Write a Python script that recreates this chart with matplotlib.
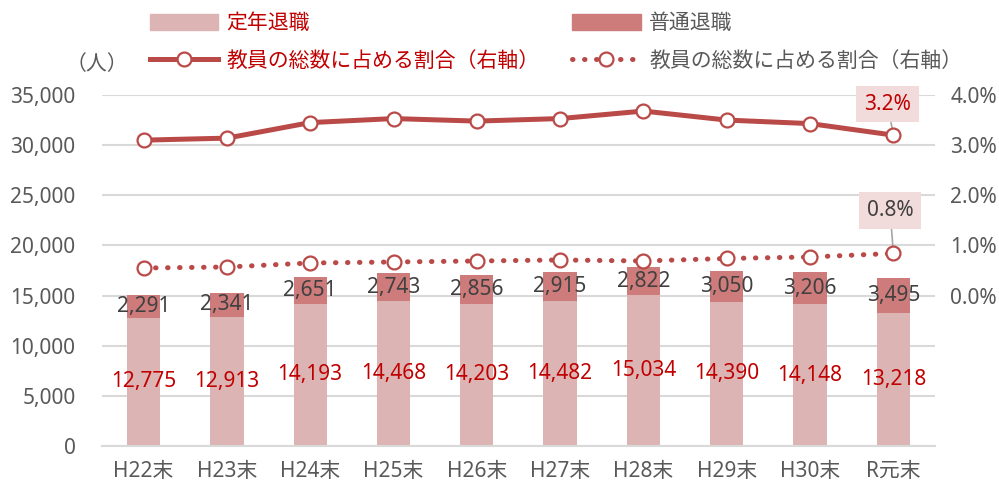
import matplotlib
matplotlib.use('Agg')
import matplotlib.pyplot as plt
from matplotlib.lines import Line2D
from matplotlib.patches import Patch

plt.rcParams['font.family'] = ['Noto Sans', 'Noto Sans CJK JP', 'DejaVu Sans']

years = ['H22末', 'H23末', 'H24末', 'H25末', 'H26末', 'H27末', 'H28末', 'H29末', 'H30末', 'R元末']
teinen = [12775, 12913, 14193, 14468, 14203, 14482, 15034, 14390, 14148, 13218]
futsu = [2291, 2341, 2651, 2743, 2856, 2915, 2822, 3050, 3206, 3495]
rate_teinen = [3.10, 3.14, 3.45, 3.53, 3.48, 3.53, 3.68, 3.50, 3.43, 3.2]
rate_futsu = [0.55, 0.57, 0.65, 0.67, 0.69, 0.71, 0.69, 0.74, 0.77, 0.84]

c_low = '#DDB4B4'
c_top = '#CD7B7B'
c_line = '#B94A48'
c_red = '#C00000'
c_gray = '#595959'
c_grid = '#D9D9D9'

fig = plt.figure(figsize=(9.99, 4.86), dpi=100)
ax = fig.add_axes([0.102, 0.0823, 0.834, 0.7222])
x = range(len(years))

ax.bar(x, teinen, width=0.4, color=c_low, zorder=2)
ax.bar(x, futsu, width=0.4, bottom=teinen, color=c_top, zorder=2)

for i in x:
    ax.text(i, teinen[i] / 2, f'{teinen[i]:,}', ha='center', va='center',
            fontsize=15, color=c_red, zorder=5)
    ax.text(i, teinen[i] + futsu[i] / 2, f'{futsu[i]:,}', ha='center', va='center',
            fontsize=15, color='#404040', zorder=5)

ax.set_xlim(-0.5, 9.5)
ax.set_ylim(0, 35000)
ax.set_yticks(range(0, 35001, 5000))
ax.set_yticklabels([f'{v:,}' for v in range(0, 35001, 5000)])
ax.set_xticks(list(x))
ax.set_xticklabels(years)
ax.tick_params(axis='both', length=0, labelsize=15, labelcolor=c_gray)
ax.tick_params(axis='y', pad=19)
ax.tick_params(axis='x', pad=11)
ax.grid(axis='y', color=c_grid, linewidth=1.5, zorder=0)
ax.set_axisbelow(True)
for s in ['top', 'right', 'left']:
    ax.spines[s].set_visible(False)
ax.spines['bottom'].set_color(c_grid)
ax.spines['bottom'].set_linewidth(1.5)

ax2 = ax.twinx()
ax2.set_ylim(-3.0, 4.0)
ax2.set_yticks([0, 1, 2, 3, 4])
ax2.set_yticklabels(['0.0%', '1.0%', '2.0%', '3.0%', '4.0%'])
ax2.tick_params(axis='y', length=0, labelsize=15, labelcolor=c_gray, pad=11)
for s in ax2.spines.values():
    s.set_visible(False)

ax2.plot(x, rate_teinen, color=c_line, lw=3.6, marker='o', ms=10,
         mfc='white', mec=c_line, mew=1.6, zorder=4)
ax2.plot(x, rate_futsu, color=c_line, lw=3.6, linestyle=(0, (0.1, 2.3)),
         dash_capstyle='round', marker='o', ms=10, mfc='white', mec=c_line,
         mew=1.6, zorder=4)

ax2.annotate('3.2%', xy=(9, rate_teinen[9]), xytext=(8.93, 3.82),
             ha='center', va='center', fontsize=15, color=c_red,
             bbox=dict(boxstyle='square,pad=0.38', fc='#F2DCDB', ec='none'),
             arrowprops=dict(arrowstyle='-', color='#A6A6A6', lw=1.2, shrinkA=0, shrinkB=4))
ax2.annotate('0.8%', xy=(9, rate_futsu[9]), xytext=(8.96, 1.7),
             ha='center', va='center', fontsize=15, color='#404040',
             bbox=dict(boxstyle='square,pad=0.38', fc='#F2DCDB', ec='none'),
             arrowprops=dict(arrowstyle='-', color='#A6A6A6', lw=1.2, shrinkA=0, shrinkB=4))

handles = [
    Patch(color=c_low),
    Line2D([], [], color=c_line, lw=3.6, marker='o', ms=10, mfc='white', mec=c_line, mew=1.6),
    Patch(color=c_top),
    Line2D([], [], color=c_line, lw=3.6, linestyle=(0, (0.1, 2.3)), dash_capstyle='round',
           marker='o', ms=10, mfc='white', mec=c_line, mew=1.6),
]
labels = ['定年退職', '教員の総数に占める割合（右軸）', '普通退職', '教員の総数に占める割合（右軸）']
leg = fig.legend(handles, labels, ncol=2, loc='upper left', bbox_to_anchor=(0.131, 1.012),
                 frameon=False, fontsize=15, handlelength=3.3, handleheight=0.8,
                 columnspacing=1.55, labelspacing=0.8, handletextpad=0.4)
for t, c in zip(leg.get_texts(), [c_red, c_red, c_gray, c_gray]):
    t.set_color(c)

fig.text(0.066, 0.868, '（人）', fontsize=15, color=c_gray, va='center')

fig.savefig('out.png', dpi=100)
